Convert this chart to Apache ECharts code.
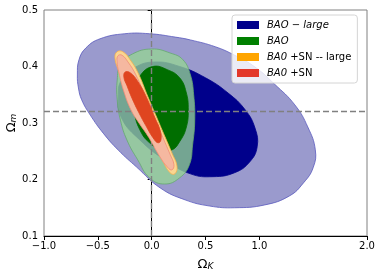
<!DOCTYPE html>
<html>
<head>
<meta charset="utf-8">
<script src="https://cdn.jsdelivr.net/npm/echarts@6/dist/echarts.min.js"></script>
<style>html,body{margin:0;padding:0;background:#fff;}#c{width:381px;height:277px;}</style>
</head>
<body>
<div id="c"></div>
<script>
// ---- data ----
const xTicks = [-1.0, -0.5, 0.0, 0.5, 1.0, 2.0];
const yTicks = [0.1, 0.2, 0.3, 0.4, 0.5];
const refOmegaK = 0.0;
const refOmegaM = 0.315;
const seriesNames = ['BAO − large', 'BAO', 'BA0 +SN -- large', 'BA0 +SN'];

// contour boundaries [Omega_K, Omega_m]
const baoLarge2sigma = [[-0.69,0.385],[-0.675,0.412],[-0.61,0.433],[-0.48,0.449],[-0.25,0.458],[-0.02,0.458],[0.22,0.452],[0.36,0.447],[0.59,0.435],[0.77,0.42],[0.96,0.399],[1.14,0.369],[1.33,0.332],[1.45,0.293],[1.52,0.2525],[1.50,0.221],[1.41,0.194],[1.28,0.171],[1.05,0.155],[0.77,0.15],[0.54,0.153],[0.31,0.164],[0.08,0.185],[-0.14,0.222],[-0.31,0.252],[-0.45,0.282],[-0.57,0.314],[-0.65,0.341],[-0.68,0.362]];
const baoLarge1sigma = [[-0.31,0.35],[-0.28,0.376],[-0.16,0.398],[0.03,0.408],[0.26,0.40],[0.50,0.38],[0.71,0.353],[0.87,0.323],[0.96,0.291],[0.98,0.258],[0.91,0.231],[0.77,0.212],[0.57,0.205],[0.36,0.21],[0.12,0.235],[-0.11,0.27],[-0.28,0.309]];
const bao2sigma = [[0.00,0.431],[0.17,0.424],[0.29,0.412],[0.36,0.385],[0.39,0.35],[0.40,0.305],[0.38,0.261],[0.35,0.226],[0.26,0.203],[0.12,0.192],[-0.02,0.203],[-0.13,0.235],[-0.23,0.27],[-0.29,0.305],[-0.32,0.341],[-0.32,0.376],[-0.29,0.403],[-0.18,0.422]];
const bao1sigma = [[0.01,0.40],[0.15,0.394],[0.26,0.38],[0.32,0.355],[0.34,0.323],[0.32,0.291],[0.26,0.267],[0.19,0.2525],[0.10,0.2525],[-0.02,0.265],[-0.11,0.288],[-0.16,0.32],[-0.16,0.355],[-0.11,0.383]];
const baoSnLarge2sigma = [[-0.322,0.426],[-0.267,0.426],[-0.20,0.412],[-0.127,0.389],[-0.034,0.346],[0.049,0.309],[0.124,0.2755],[0.188,0.247],[0.235,0.224],[0.216,0.21],[0.17,0.212],[0.096,0.235],[-0.016,0.274],[-0.109,0.302],[-0.183,0.323],[-0.248,0.355],[-0.304,0.39],[-0.341,0.415]];
const baoSn2sigma = [[-0.313,0.419],[-0.276,0.42],[-0.22,0.408],[-0.146,0.385],[-0.053,0.344],[0.031,0.307],[0.105,0.274],[0.17,0.245],[0.207,0.226],[0.188,0.217],[0.151,0.221],[0.077,0.24],[-0.025,0.274],[-0.118,0.30],[-0.192,0.323],[-0.257,0.355],[-0.304,0.389],[-0.322,0.41]];
const baoSn1sigma = [[-0.248,0.39],[-0.20,0.389],[-0.127,0.373],[-0.044,0.344],[0.031,0.309],[0.077,0.288],[0.086,0.27],[0.058,0.265],[0.012,0.274],[-0.053,0.295],[-0.118,0.318],[-0.183,0.344],[-0.229,0.366],[-0.257,0.38]];

// ---- styling ----
const legendColors = ['#00008b', '#008000', '#ffa500', '#e3372a'];
const groups = [
  [{poly: baoLarge2sigma, fill: 'rgb(154,154,205)', stroke: 'rgb(90,90,190)'},
   {poly: baoLarge1sigma, fill: '#00008b', stroke: '#00008b'}],
  [{poly: bao2sigma, fill: 'rgba(149,211,149,0.78)', stroke: 'rgb(100,170,110)'},
   {poly: bao1sigma, fill: '#006e00', stroke: '#006e00'}],
  [{poly: baoSnLarge2sigma, fill: 'rgb(250,214,145)', stroke: 'rgb(245,175,80)'}],
  [{poly: baoSn2sigma, fill: 'rgb(245,184,160)', stroke: 'rgb(240,140,120)'},
   {poly: baoSn1sigma, fill: '#df4520', stroke: '#df4520'}]
];

const fmt = v => (Math.round(v * 10) / 10).toFixed(1).replace('-', '\u2212');

const series = groups.map((g, gi) => ({
  type: 'custom',
  name: seriesNames[gi],
  itemStyle: {color: legendColors[gi]},
  data: g.map((_, i) => i),
  z: 2 + gi,
  renderItem: function (params, api) {
    const c = g[params.dataIndex];
    const pts = c.poly.map(p => api.coord(p));
    return {
      type: 'polygon',
      shape: {points: pts, smooth: 0.45},
      style: {fill: c.fill, stroke: c.stroke, lineWidth: 0.8}
    };
  },
  animation: false
}));

series.push({
  type: 'line',
  data: [],
  z: 10,
  silent: true,
  markLine: {
    symbol: 'none',
    silent: true,
    animation: false,
    label: {show: false},
    lineStyle: {color: '#808080', type: [6, 3], width: 1.4},
    data: [{xAxis: refOmegaK}, {yAxis: refOmegaM}]
  }
});

const chart = echarts.init(document.getElementById('c'), null, {renderer: 'canvas'});
chart.setOption({
  animation: false,
  textStyle: {fontFamily: 'DejaVu Sans'},
  grid: {left: 44, right: 14, top: 10, bottom: 41, containLabel: false, outerBoundsMode: 'none', show: true, borderColor: '#808080', borderWidth: 1, backgroundColor: 'transparent'},
  xAxis: {
    type: 'value', min: -1, max: 2, interval: 0.5,
    splitLine: {show: false},
    axisLine: {lineStyle: {color: '#000', width: 1}},
    axisTick: {show: true, length: 4, customValues: xTicks, lineStyle: {color: '#000'}},
    axisLabel: {customValues: xTicks, formatter: fmt, color: '#000', fontSize: 10, margin: 5, fontFamily: 'DejaVu Sans'},
    name: '{o|Ω}{s|K}',
    nameLocation: 'middle', nameGap: 20, nameMoveOverlap: false,
    nameTextStyle: {rich: {
      o: {fontSize: 13, color: '#000', fontFamily: 'DejaVu Sans', verticalAlign: 'bottom'},
      s: {fontSize: 9, color: '#000', fontStyle: 'italic', fontFamily: 'DejaVu Sans', padding: [6, 0, 0, 0], verticalAlign: 'bottom'}
    }}
  },
  yAxis: {
    type: 'value', min: 0.1, max: 0.5, interval: 0.1,
    splitLine: {show: false},
    axisLine: {lineStyle: {color: '#000', width: 1}},
    axisTick: {show: true, length: 4, lineStyle: {color: '#000'}},
    axisLabel: {formatter: fmt, color: '#000', fontSize: 10, margin: 6, fontFamily: 'DejaVu Sans'},
    name: '{o|Ω}{s|m}',
    nameLocation: 'middle', nameGap: 26, nameRotate: 90, nameMoveOverlap: false,
    nameTextStyle: {rich: {
      o: {fontSize: 13, color: '#000', fontFamily: 'DejaVu Sans', verticalAlign: 'bottom'},
      s: {fontSize: 9, color: '#000', fontStyle: 'italic', fontFamily: 'DejaVu Sans', padding: [6, 0, 0, 0], verticalAlign: 'bottom'}
    }}
  },
  legend: {
    orient: 'vertical', left: 232, top: 15,
    itemWidth: 22, itemHeight: 8, itemGap: 4,
    padding: [4, 6, 4, 5],
    backgroundColor: 'rgba(255,255,255,0.8)',
    borderColor: '#d4d4d4', borderWidth: 1, borderRadius: 3,
    selectedMode: false,
    icon: 'rect',
    itemStyle: {borderWidth: 0},
    data: seriesNames.map((n, i) => ({name: n, icon: 'rect', itemStyle: {color: legendColors[i], borderWidth: 0}})),
    formatter: function (name) {
      if (name === seriesNames[0]) return '{i|BAO − large}';
      if (name === seriesNames[1]) return '{i|BAO}';
      if (name === seriesNames[2]) return '{i|BA0} +SN -- large';
      return '{i|BA0} +SN';
    },
    textStyle: {
      fontFamily: 'DejaVu Sans', fontSize: 10, color: '#000', padding: [0, 0, 0, 3], lineHeight: 12,
      rich: {i: {fontStyle: 'italic', fontFamily: 'DejaVu Sans', fontSize: 10, color: '#000', lineHeight: 12}}
    }
  },
  series: series
});
</script>
</body>
</html>
